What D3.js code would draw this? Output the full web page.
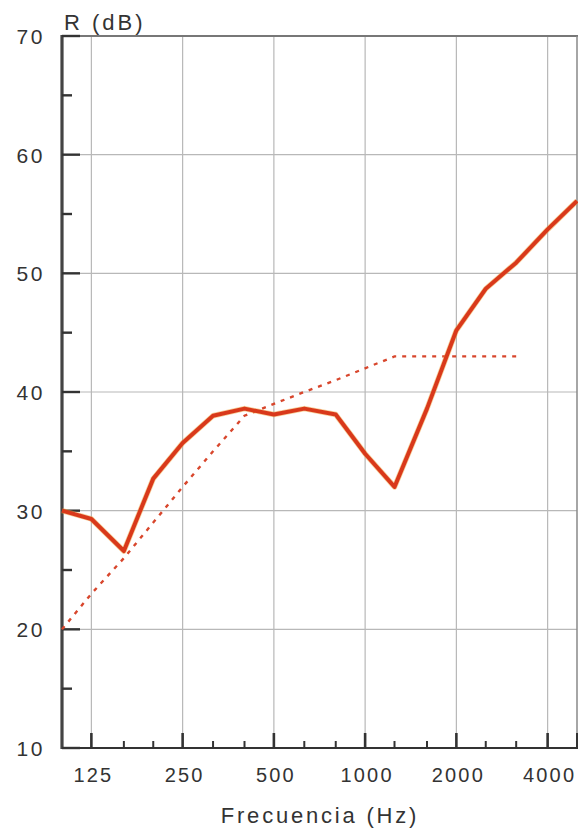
<!DOCTYPE html>
<html><head><meta charset="utf-8">
<script src="https://cdn.jsdelivr.net/npm/d3@7"></script>
<style>
html,body{margin:0;padding:0;background:#fff;}
svg text{font-family:"Liberation Sans",Arial,sans-serif;fill:#333;}
</style></head>
<body>
<svg id="c" width="578" height="829"></svg>
<script>
const freqs = [100,125,160,200,250,315,400,500,630,800,1000,1250,1600,2000,2500,3150,4000,5000];
const measured = [30,29.3,26.6,32.7,35.7,38,38.6,38.1,38.6,38.1,34.8,32,38.6,45.2,48.7,50.9,53.7,56.1];
const refFreqs = [100,125,160,200,250,315,400,500,630,800,1000,1250,1600,2000,2500,3150];
const refCurve = [20,23,26,29,32,35,38,39,40,41,42,43,43,43,43,43];
const octaveTicks = [125,250,500,1000,2000,4000];
const octaveLabels = ["125","250","500","1000","2000","4000"];
const yMajor = [10,20,30,40,50,60,70];
const yMinor = [15,25,35,45,55,65];

const svg = d3.select("#c");
const L=62,R=577,T=36,B=748;
const x = d3.scaleLog().domain([100,5000]).range([L,R]);
const y = d3.scaleLinear().domain([10,70]).range([B,T]);

// grid
svg.append("g").selectAll("line").data(octaveTicks).join("line")
  .attr("x1",d=>x(d)).attr("x2",d=>x(d)).attr("y1",T).attr("y2",B)
  .attr("stroke","#b8b8b8").attr("stroke-width",1.2);
svg.append("g").selectAll("line").data(yMajor.slice(1,-1)).join("line")
  .attr("x1",L).attr("x2",R).attr("y1",d=>y(d)).attr("y2",d=>y(d))
  .attr("stroke","#b8b8b8").attr("stroke-width",1.2);

// frame
svg.append("line").attr("x1",L).attr("x2",R+1).attr("y1",T).attr("y2",T).attr("stroke","#777").attr("stroke-width",2);
svg.append("line").attr("x1",R).attr("x2",R).attr("y1",T).attr("y2",B).attr("stroke","#888").attr("stroke-width",1.5);

// bottom axis
const xAxis = d3.axisBottom(x).tickValues(freqs.slice(1)).tickSize(0).tickFormat("");
const gx = svg.append("g").attr("transform",`translate(0,${B})`).call(xAxis);
gx.select(".domain").remove();
svg.append("line").attr("x1",L).attr("x2",R+1).attr("y1",B).attr("y2",B).attr("stroke","#333").attr("stroke-width",2.2);
svg.append("g").selectAll("line").data(freqs.slice(1)).join("line")
  .attr("x1",d=>x(d)).attr("x2",d=>x(d)).attr("y1",B)
  .attr("y2",d=>octaveTicks.includes(d)||d===5000?B-15:B-7)
  .attr("stroke","#333").attr("stroke-width",d=>octaveTicks.includes(d)?2.6:2);
svg.append("g").selectAll("text").data(octaveTicks).join("text")
  .attr("x",(d)=>x(d)+2).attr("y",782).attr("text-anchor","middle")
  .attr("font-size",20).attr("letter-spacing","2.2px").text((d,i)=>octaveLabels[i]);

// left axis
svg.append("line").attr("x1",L).attr("x2",L).attr("y1",T-1).attr("y2",B+1).attr("stroke","#444").attr("stroke-width",3.2);
svg.append("g").selectAll("line").data(yMajor).join("line")
  .attr("x1",L).attr("x2",L+18).attr("y1",d=>y(d)).attr("y2",d=>y(d))
  .attr("stroke","#333").attr("stroke-width",2.4);
svg.append("g").selectAll("line").data(yMinor).join("line")
  .attr("x1",L).attr("x2",L+10).attr("y1",d=>y(d)).attr("y2",d=>y(d))
  .attr("stroke","#333").attr("stroke-width",2.4);
svg.append("g").selectAll("text").data(yMajor).join("text")
  .attr("x",45).attr("y",d=>y(d)+8).attr("text-anchor","end")
  .attr("font-size",21).attr("letter-spacing","2.6px").text(d=>d);

// titles
svg.append("text").attr("x",64).attr("y",30).attr("font-size",22).attr("letter-spacing","3px").text("R (dB)");
svg.append("text").attr("x",320).attr("y",823).attr("text-anchor","middle").attr("font-size",22).attr("letter-spacing","2.8px").text("Frecuencia (Hz)");

// curves
const line = d3.line().x(d=>x(d[0])).y(d=>y(d[1]));
svg.append("path").datum(refFreqs.map((f,i)=>[f,refCurve[i]]))
  .attr("d",line).attr("fill","none").attr("stroke","#d8462c")
  .attr("stroke-width",2.4).attr("stroke-dasharray","4,6");
svg.append("path").datum(freqs.map((f,i)=>[f,measured[i]]))
  .attr("d",line).attr("fill","none").attr("stroke","#f0a23a").attr("stroke-width",5.5)
  .attr("stroke-linejoin","round").attr("opacity",0.5);
svg.append("path").datum(freqs.map((f,i)=>[f,measured[i]]))
  .attr("d",line).attr("fill","none").attr("stroke","#d9391b").attr("stroke-width",4)
  .attr("stroke-linejoin","round");
</script>
</body></html>
